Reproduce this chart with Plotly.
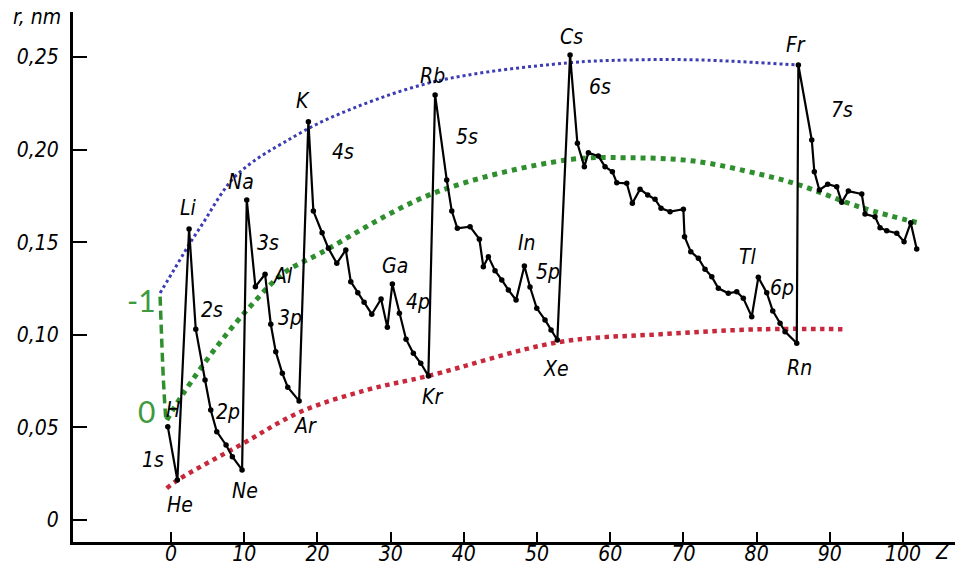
import plotly.graph_objects as go

# atomic radius r (nm) against Z, one list per period
z_p1 = [-0.45, 0.86]
r_p1 = [0.0504, 0.0216]
z_p2 = [2.46, 3.37, 4.64, 5.42, 6.24, 7.51, 8.37, 9.70]
r_p2 = [0.1571, 0.1030, 0.0756, 0.0594, 0.0477, 0.0405, 0.0342, 0.0270]
z_p3 = [10.34, 11.52, 12.84, 13.62, 14.30, 15.20, 15.94, 17.49]
r_p3 = [0.1728, 0.1260, 0.1327, 0.1057, 0.0909, 0.0792, 0.0717, 0.0643]
z_p4 = [18.76, 19.44, 20.63, 21.49, 22.64, 23.87, 24.55, 25.51, 26.37,
        27.42, 28.69, 29.55, 30.23, 31.19, 32.10, 33.10, 34.11, 35.15]
r_p4 = [0.2151, 0.1668, 0.1551, 0.1467, 0.1386, 0.1458, 0.1287, 0.1227, 0.1175,
        0.1111, 0.1193, 0.1040, 0.1274, 0.1116, 0.0976, 0.0900, 0.0846, 0.0778]
z_p5 = [36.07, 37.66, 38.35, 39.11, 40.85, 42.12, 42.66, 43.35, 44.26,
        45.18, 46.08, 47.13, 48.27, 49.04, 49.96, 51.09, 51.91, 52.77]
r_p5 = [0.2295, 0.1836, 0.1668, 0.1575, 0.1584, 0.1516, 0.1368, 0.1422, 0.1346,
        0.1296, 0.1242, 0.1188, 0.1371, 0.1258, 0.1143, 0.1080, 0.1026, 0.0972]
z_p6 = [54.51, 55.51, 56.46, 57.01, 58.37, 59.29, 60.29, 60.89, 62.25, 63.02, 64.07,
        65.12, 66.12, 66.94, 68.17, 69.99, 70.15, 71.00, 72.04, 72.95, 73.87, 74.77,
        76.13, 77.28, 78.18, 79.33, 80.23, 81.38, 82.20, 83.20, 83.88, 85.48]
r_p6 = [0.2511, 0.2034, 0.1908, 0.1983, 0.1965, 0.1908, 0.1881, 0.1821, 0.1818, 0.1710, 0.1786,
        0.1755, 0.1732, 0.1683, 0.1665, 0.1678, 0.1530, 0.1449, 0.1413, 0.1354, 0.1314, 0.1251,
        0.1224, 0.1233, 0.1197, 0.1098, 0.1310, 0.1227, 0.1129, 0.1062, 0.1017, 0.0954]
z_p7 = [85.70, 87.53, 87.88, 88.57, 89.71, 90.94, 91.63, 92.53, 94.36,
        94.81, 96.17, 96.86, 97.77, 99.14, 100.14, 101.05, 101.87]
r_p7 = [0.2457, 0.2052, 0.1881, 0.1782, 0.1813, 0.1800, 0.1715, 0.1776, 0.1760,
        0.1652, 0.1638, 0.1578, 0.1562, 0.1548, 0.1503, 0.1605, 0.1463]

z_all = z_p1 + z_p2 + z_p3 + z_p4 + z_p5 + z_p6 + z_p7
r_all = r_p1 + r_p2 + r_p3 + r_p4 + r_p5 + r_p6 + r_p7

# envelope curves drawn by hand in the original
blue_z = [-1.50, 0.55, 2.60, 4.64, 6.60, 8.50, 11.2, 15.3, 21.72, 35.79, 54.1, 62.7, 72.27, 85.52]
blue_r = [0.1226, 0.1361, 0.1496, 0.1620, 0.1745, 0.1845, 0.1935, 0.2036, 0.2171, 0.2365,
          0.2468, 0.2484, 0.2484, 0.2457]
green_z = [-0.59, 1.68, 6.24, 10.79, 15.34, 20.36, 35.83, 54.06, 62.3, 71.45, 80.74, 85.75, 94.47, 102.32]
green_r = [0.0540, 0.0684, 0.0936, 0.1152, 0.1332, 0.1440, 0.1764, 0.1944, 0.1956, 0.1938,
           0.1864, 0.1810, 0.1685, 0.1602]
green_dash_z = [-1.50, -1.05, -0.72]
green_dash_r = [0.1206, 0.0756, 0.0540]
red_z = [-0.59, 0.92, 9.88, 17.62, 26.73, 35.15, 52.91, 66.91, 80.70, 91.72]
red_r = [0.0171, 0.0216, 0.0414, 0.0583, 0.0702, 0.0778, 0.0960, 0.1003, 0.1030, 0.1030]

# element labels by atomic number
element_names = ["H", "He", "Li", "Ne", "Na", "Al", "Ar", "K", "Ga", "Kr",
                 "Rb", "In", "Xe", "Cs", "Tl", "Rn", "Fr"]
element_z = [1, 2, 3, 10, 11, 13, 18, 19, 31, 36, 37, 49, 54, 55, 81, 86, 87]

# subshell labels
shell_names = ["1s", "2s", "2p", "3s", "3p", "4s", "4p", "5s", "5p", "6s", "6p", "7s"]
shell_z = [-2.46, 5.60, 7.79, 13.25, 16.26, 23.50, 33.74, 40.44, 51.5, 58.6, 83.4, 91.6]
shell_r = [0.0324, 0.1134, 0.0583, 0.1496, 0.1091, 0.1987, 0.1177, 0.2068, 0.1339, 0.2338,
           0.1253, 0.2214]

y_ticks = [0, 0.05, 0.10, 0.15, 0.20, 0.25]
y_tick_text = ["0", "0,05", "0,10", "0,15", "0,20", "0,25"]
x_ticks = [0, 10, 20, 30, 40, 50, 60, 70, 80, 90, 100]

FONT = "DejaVu Sans Condensed, Liberation Sans Narrow, sans-serif"
GREEN = "#2f8f2f"
TXT = 21

# pixel offsets of element labels from their points (dx right, dy up)
label_shift = {
    "H": (5, 17), "He": (3, -25), "Li": (-1, 21), "Ne": (3, -21), "Na": (-6, 18),
    "Al": (18, -2), "Ar": (6, -25), "K": (-5, 21), "Ga": (3, 18), "Kr": (4, -21),
    "Rb": (-3, 19), "In": (3, 23), "Xe": (-1, -29), "Cs": (1, 18), "Tl": (-10, 20),
    "Rn": (3, -25), "Fr": (-2, 20),
}

fig = go.Figure()

fig.add_trace(go.Scatter(x=blue_z, y=blue_r, mode="lines", line_shape="spline",
                         line=dict(color="#3c3cb4", width=3, dash="dot"), hoverinfo="skip"))
fig.add_trace(go.Scatter(x=green_dash_z, y=green_dash_r, mode="lines", line_shape="spline",
                         line=dict(color=GREEN, width=3.5, dash="9px,5px"), hoverinfo="skip"))
fig.add_trace(go.Scatter(x=green_z, y=green_r, mode="lines", line_shape="spline",
                         line=dict(color=GREEN, width=5, dash="dot"), hoverinfo="skip"))
fig.add_trace(go.Scatter(x=red_z, y=red_r, mode="lines", line_shape="spline",
                         line=dict(color="#c8283c", width=4.5, dash="dot"), hoverinfo="skip"))
fig.add_trace(go.Scatter(x=z_all, y=r_all, mode="lines+markers",
                         line=dict(color="black", width=2.2),
                         marker=dict(color="black", size=5.5)))

for name, z in zip(element_names, element_z):
    dx, dy = label_shift[name]
    fig.add_annotation(x=z_all[z - 1], y=r_all[z - 1], text=name, showarrow=False,
                       xshift=dx, yshift=dy,
                       font=dict(family=FONT, size=TXT, color="black", style="italic"))

for name, z, r in zip(shell_names, shell_z, shell_r):
    fig.add_annotation(x=z, y=r, text=name, showarrow=False,
                       font=dict(family=FONT, size=TXT, color="black", style="italic"))

# green level marks of the dashed curve
fig.add_annotation(x=green_dash_z[0], y=green_dash_r[0], text="-1", showarrow=False,
                   xshift=-19, yshift=-3, font=dict(family="Lato", size=30, color="#3d9a3d"))
fig.add_annotation(x=green_z[0], y=green_r[0], text="0", showarrow=False,
                   xshift=-20, yshift=9, font=dict(family="Lato", size=30, color="#3d9a3d"))

fig.add_annotation(xref="paper", yref="paper", x=-0.041, y=0.99, xanchor="center", yanchor="middle",
                   text="r, nm", showarrow=False,
                   font=dict(family=FONT, size=TXT, color="black", style="italic"))
fig.add_annotation(xref="paper", yref="paper", x=0.986, y=-0.019, xanchor="center", yanchor="middle",
                   text="Z", showarrow=False,
                   font=dict(family=FONT, size=TXT, color="black", style="italic"))

fig.update_xaxes(range=[-13.4, 107.1], tickvals=x_ticks, ticks="inside", ticklen=10, tickwidth=2,
                 tickcolor="black", showline=True, linecolor="black", linewidth=3,
                 showgrid=False, zeroline=False, ticklabelstandoff=-9,
                 tickfont=dict(family=FONT, size=TXT, color="black", style="italic"))
fig.update_yaxes(range=[-0.0119, 0.2743], tickvals=y_ticks, ticktext=y_tick_text, ticks="inside",
                 ticklen=14, tickwidth=2, tickcolor="black", showline=True, linecolor="black",
                 linewidth=3, showgrid=False, zeroline=False, ticklabelstandoff=7,
                 tickfont=dict(family=FONT, size=TXT, color="black", style="italic"))

fig.update_layout(width=960, height=579, margin=dict(l=73, r=5, t=12, b=37),
                  plot_bgcolor="white", paper_bgcolor="white", showlegend=False)

fig.write_html("out.html", config={"displayModeBar": False},
               post_script="document.body.style.margin='0px';")
